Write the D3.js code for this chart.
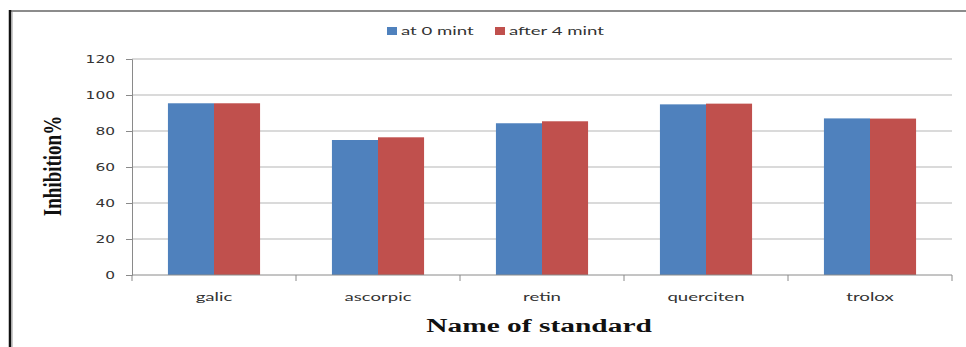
<!DOCTYPE html>
<html>
<head>
<meta charset="utf-8">
<script src="https://cdn.jsdelivr.net/npm/d3@7"></script>
<style>
  body { margin: 0; background: #fff; }
  svg { display: block; }
</style>
</head>
<body>
<svg id="chart" width="966" height="347"></svg>
<script>
// data
var categories = ['galic', 'ascorpic', 'retin', 'querciten', 'trolox'];
var seriesNames = ['at 0 mint', 'after 4 mint'];
var at0 = [95.4, 75.0, 84.3, 94.8, 87.0];
var after4 = [95.4, 76.5, 85.4, 95.2, 86.9];
var yTicks = [0, 20, 40, 60, 80, 100, 120];
var colors = ['#4f81bd', '#c0504d'];

// the original picture is stretched sideways, so text gets stretched too
var stretch = 1.55;

var svg = d3.select('#chart');

// frame lines
svg.append('line').attr('x1', 9).attr('x2', 966).attr('y1', 11).attr('y2', 11)
  .attr('stroke', '#8c8c8c').attr('stroke-width', 2);
svg.append('line').attr('x1', 10).attr('x2', 10).attr('y1', 10).attr('y2', 347)
  .attr('stroke', '#111').attr('stroke-width', 2.5);
svg.append('line').attr('x1', 12).attr('x2', 12).attr('y1', 12).attr('y2', 347)
  .attr('stroke', '#999').attr('stroke-width', 1);

var plotLeft = 132, plotRight = 952, plotTop = 59, plotBottom = 275;

var x0 = d3.scaleBand().domain(categories).range([plotLeft, plotRight]).padding(0);
var x1 = d3.scaleBand().domain(seriesNames).range([0, x0.bandwidth()])
  .paddingInner(0).paddingOuter(0.78);
var y = d3.scaleLinear().domain([0, 120]).range([plotBottom, plotTop]);

// gridlines
svg.append('g').selectAll('line')
  .data(yTicks.filter(function(d) { return d > 0; }))
  .enter().append('line')
  .attr('x1', plotLeft).attr('x2', plotRight)
  .attr('y1', function(d) { return y(d); })
  .attr('y2', function(d) { return y(d); })
  .attr('stroke', '#b5b5b5').attr('stroke-width', 1);

// bars
var rows = categories.map(function(c, i) {
  return { cat: c, vals: [at0[i], after4[i]] };
});
var group = svg.append('g').selectAll('g')
  .data(rows)
  .enter().append('g')
  .attr('transform', function(d) { return 'translate(' + x0(d.cat) + ',0)'; });

group.selectAll('rect')
  .data(function(d) { return d.vals.map(function(v, j) { return { s: seriesNames[j], v: v, j: j }; }); })
  .enter().append('rect')
  .attr('x', function(d) { return x1(d.s); })
  .attr('width', x1.bandwidth())
  .attr('y', function(d) { return y(d.v); })
  .attr('height', function(d) { return plotBottom - y(d.v); })
  .attr('fill', function(d) { return colors[d.j]; });

// y axis
var yAxis = d3.axisLeft(y).tickValues(yTicks).tickSize(6).tickPadding(10)
  .tickFormat(d3.format('d'));
var gy = svg.append('g').attr('transform', 'translate(' + plotLeft + ',0)').call(yAxis);
gy.select('.domain').attr('stroke', '#8a8a8a');
gy.selectAll('.tick line').attr('stroke', '#8a8a8a');
gy.selectAll('.tick text')
  .attr('font-family', '"DejaVu Sans", Verdana, sans-serif')
  .attr('font-size', 11)
  .attr('fill', '#333')
  .attr('x', null)
  .attr('dy', null)
  .attr('dominant-baseline', 'central')
  .attr('transform', 'translate(-17,0) scale(1.4,1)');

// x axis line and ticks between categories
svg.append('line').attr('x1', plotLeft).attr('x2', plotRight)
  .attr('y1', plotBottom).attr('y2', plotBottom)
  .attr('stroke', '#8a8a8a');
var bounds = categories.map(function(c) { return x0(c); }).concat([plotRight]);
svg.append('g').selectAll('line')
  .data(bounds).enter().append('line')
  .attr('x1', function(d) { return d; }).attr('x2', function(d) { return d; })
  .attr('y1', plotBottom).attr('y2', plotBottom + 6)
  .attr('stroke', '#8a8a8a');

svg.append('g').selectAll('text')
  .data(categories).enter().append('text')
  .attr('transform', function(d) {
    return 'translate(' + (x0(d) + x0.bandwidth() / 2) + ',301) scale(' + stretch + ',1)';
  })
  .attr('text-anchor', 'middle')
  .attr('font-family', 'Lato, sans-serif')
  .attr('font-size', 12)
  .attr('fill', '#333')
  .text(function(d) { return d; });

// legend
var legendX = [387, 495];
var legend = svg.append('g').selectAll('g')
  .data(seriesNames).enter().append('g')
  .attr('transform', function(d, i) { return 'translate(' + legendX[i] + ',27)'; });
legend.append('rect')
  .attr('width', 10).attr('height', 8)
  .attr('fill', function(d, i) { return colors[i]; });
legend.append('text')
  .attr('transform', 'translate(14,8) scale(' + stretch + ',1)')
  .attr('font-family', 'Lato, sans-serif')
  .attr('font-size', 12)
  .attr('fill', '#333')
  .text(function(d) { return d; });

// axis titles
svg.append('text')
  .attr('transform', 'translate(539,332) scale(' + stretch + ',1)')
  .attr('text-anchor', 'middle')
  .attr('font-family', '"Liberation Serif", "Times New Roman", serif')
  .attr('font-weight', 'bold')
  .attr('font-size', 19)
  .attr('fill', '#111')
  .text('Name of standard');

svg.append('text')
  .attr('transform', 'translate(61,166) rotate(-90) scale(1,1.35)')
  .attr('text-anchor', 'middle')
  .attr('font-family', '"Liberation Serif", "Times New Roman", serif')
  .attr('font-weight', 'bold')
  .attr('font-size', 19)
  .attr('fill', '#111')
  .text('Inhibition%');
</script>
</body>
</html>
